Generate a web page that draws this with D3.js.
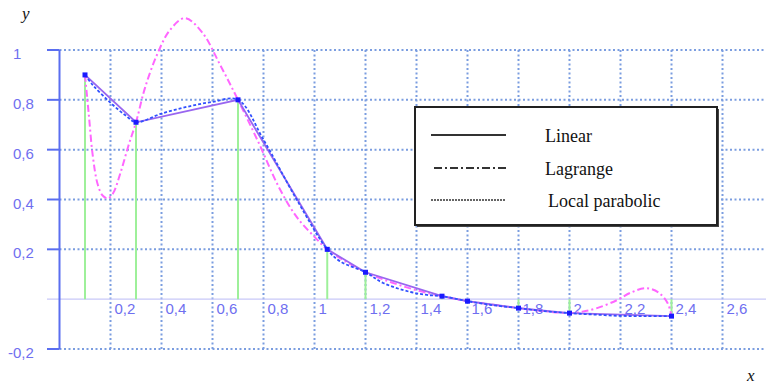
<!DOCTYPE html>
<html>
<head>
<meta charset="utf-8">
<script src="https://cdn.jsdelivr.net/npm/d3@7"></script>
<style>
  body { margin: 0; background: #fff; }
  svg { display: block; }
</style>
</head>
<body>
<div id="plot"></div>
<script>
// interpolation nodes
var nodeX = [0.1, 0.3, 0.7, 1.05, 1.2, 1.5, 1.6, 1.8, 2.0, 2.4];
var nodeY = [0.9, 0.71, 0.8, 0.2, 0.108, 0.012, -0.008, -0.036, -0.056, -0.068];

// Lagrange polynomial
var lagrangeX = [0.1, 0.115, 0.13, 0.15, 0.17, 0.19, 0.21, 0.24, 0.27, 0.3,
                 0.335, 0.382, 0.433, 0.492, 0.56, 0.63, 0.7,
                 0.78, 0.86, 0.93, 1.0, 1.05,
                 1.12, 1.2, 1.3, 1.4, 1.5, 1.6, 1.7, 1.8, 1.9, 2.0,
                 2.05, 2.108, 2.186, 2.24, 2.3, 2.35, 2.385, 2.4];
var lagrangeY = [0.9, 0.74, 0.58, 0.46, 0.415, 0.405, 0.425, 0.51, 0.615, 0.71,
                 0.847, 0.98, 1.08, 1.128, 1.07, 0.94, 0.8,
                 0.63, 0.45, 0.33, 0.25, 0.2,
                 0.153, 0.108, 0.068, 0.036, 0.012, -0.008, -0.022, -0.036, -0.048, -0.056,
                 -0.05, -0.036, -0.004, 0.026, 0.044, 0.026, -0.016, -0.068];

// local parabolic interpolation
var parabolicX = [0.1, 0.131, 0.198, 0.257, 0.3, 0.4, 0.5, 0.6, 0.7,
                  0.8, 0.93, 1.05, 1.1, 1.2, 1.269, 1.375, 1.441, 1.5,
                  1.6, 1.7, 1.8, 1.9, 2.0, 2.1, 2.2, 2.3, 2.4];
var parabolicY = [0.9, 0.859, 0.79, 0.739, 0.71, 0.745, 0.772, 0.792, 0.8,
                  0.64, 0.4, 0.2, 0.152, 0.108, 0.065, 0.029, 0.017, 0.012,
                  -0.008, -0.024, -0.036, -0.048, -0.056, -0.062, -0.067, -0.068, -0.068];

var xTicks = [0.2, 0.4, 0.6, 0.8, 1, 1.2, 1.4, 1.6, 1.8, 2, 2.2, 2.4, 2.6, 2.8];
var xTickLabels = ["0,2", "0,4", "0,6", "0,8", "1", "1,2", "1,4", "1,6", "1,8", "2", "2,2", "2,4", "2,6", ""];
var yTicks = [-0.2, 0.2, 0.4, 0.6, 0.8, 1];
var yTickLabels = ["-0,2", "0,2", "0,4", "0,6", "0,8", "1"];

var legendNames = ["Linear", "Lagrange", "Local parabolic"];

var width = 766, height = 384;

var svg = d3.select("#plot").append("svg")
    .attr("width", width)
    .attr("height", height);

var x = d3.scaleLinear().domain([0, 2.8]).range([59.5, 773.5]);
var y = d3.scaleLinear().domain([-0.2, 1]).range([349, 50]);

var gridColor = "#7b9de0";
var tickColor = "#6f6ff0";

// grid
svg.selectAll(".hgrid").data(yTicks).enter().append("line")
    .attr("x1", x(0)).attr("x2", width)
    .attr("y1", d => y(d)).attr("y2", d => y(d))
    .attr("stroke", gridColor).attr("stroke-width", 2)
    .attr("stroke-dasharray", "2,2.5");

svg.selectAll(".vgrid").data(xTicks).enter().append("line")
    .attr("x1", d => x(d)).attr("x2", d => x(d))
    .attr("y1", y(1)).attr("y2", y(-0.2))
    .attr("stroke", gridColor).attr("stroke-width", 2)
    .attr("stroke-dasharray", "2,2.5");

// x axis (y = 0)
svg.append("line")
    .attr("x1", 47).attr("x2", width)
    .attr("y1", y(0)).attr("y2", y(0))
    .attr("stroke", "#c8c8f8").attr("stroke-width", 1.2);

// green ordinates at the nodes
svg.selectAll(".ord").data(nodeX).enter().append("line")
    .attr("x1", d => x(d)).attr("x2", d => x(d))
    .attr("y1", (d, i) => y(nodeY[i])).attr("y2", y(0))
    .attr("stroke", "#9ef09a").attr("stroke-width", 2);

// y axis with ticks
svg.append("line")
    .attr("x1", x(0)).attr("x2", x(0))
    .attr("y1", y(1)).attr("y2", y(-0.2))
    .attr("stroke", "#5a6ef0").attr("stroke-width", 2);

svg.selectAll(".ytick").data(yTicks).enter().append("line")
    .attr("x1", 47).attr("x2", x(0))
    .attr("y1", d => y(d)).attr("y2", d => y(d))
    .attr("stroke", "#5a6ef0").attr("stroke-width", 2);

svg.selectAll(".ylab").data(yTicks).enter().append("text")
    .attr("x", d => d < 0 ? 8 : 13)
    .attr("y", d => y(d) + 9)
    .style("font", "15px 'Liberation Sans', Arial, sans-serif")
    .attr("fill", tickColor)
    .text((d, i) => yTickLabels[i]);

svg.selectAll(".xlab").data(xTicks).enter().append("text")
    .attr("x", d => x(d) + 4)
    .attr("y", y(0) + 15)
    .style("font", "15px 'Liberation Sans', Arial, sans-serif")
    .attr("fill", tickColor)
    .text((d, i) => xTickLabels[i]);

// axis names
svg.append("text")
    .attr("x", 22).attr("y", 19)
    .style("font", "italic 17px 'Liberation Serif', 'Times New Roman', serif")
    .attr("fill", "#111")
    .text("y");

svg.append("text")
    .attr("x", 747).attr("y", 381)
    .style("font", "italic 17px 'Liberation Serif', 'Times New Roman', serif")
    .attr("fill", "#111")
    .text("x");

// curves
var smooth = d3.line()
    .x(d => x(d[0])).y(d => y(d[1]))
    .curve(d3.curveCatmullRom.alpha(0.5));

svg.append("path")
    .datum(lagrangeX.map((v, i) => [v, lagrangeY[i]]))
    .attr("d", smooth)
    .attr("fill", "none")
    .attr("stroke", "#ff66ff").attr("stroke-width", 2)
    .attr("stroke-dasharray", "7,3,2,3");

var straight = d3.line().x(d => x(d[0])).y(d => y(d[1]));

svg.append("path")
    .datum(nodeX.map((v, i) => [v, nodeY[i]]))
    .attr("d", straight)
    .attr("fill", "none")
    .attr("stroke", "#9966f0").attr("stroke-width", 1.8);

svg.append("path")
    .datum(parabolicX.map((v, i) => [v, parabolicY[i]]))
    .attr("d", smooth)
    .attr("fill", "none")
    .attr("stroke", "#3050ff").attr("stroke-width", 1.8)
    .attr("stroke-dasharray", "3,2");

// nodes
svg.selectAll(".node").data(nodeX).enter().append("rect")
    .attr("x", d => x(d) - 2.5)
    .attr("y", (d, i) => y(nodeY[i]) - 2.5)
    .attr("width", 5).attr("height", 5)
    .attr("fill", "#1a1aff");

// legend
var lg = svg.append("g");
lg.append("rect")
    .attr("x", 417).attr("y", 109).attr("width", 302).attr("height", 118)
    .attr("fill", "#444");
lg.append("rect")
    .attr("x", 415).attr("y", 107).attr("width", 302).attr("height", 118)
    .attr("fill", "#fff").attr("stroke", "#222").attr("stroke-width", 2);

var legendDash = [null, "8,3,2,3", "2,1"];
var legendRowY = [135, 168, 200];
var legendX1 = [431, 434, 431];
var legendTextX = [545, 545, 548];

lg.selectAll(".lline").data(legendNames).enter().append("line")
    .attr("x1", (d, i) => legendX1[i]).attr("x2", 506)
    .attr("y1", (d, i) => legendRowY[i]).attr("y2", (d, i) => legendRowY[i])
    .attr("stroke", "#333").attr("stroke-width", (d, i) => i == 2 ? 1.5 : 2)
    .attr("stroke-dasharray", (d, i) => legendDash[i]);

lg.selectAll(".ltext").data(legendNames).enter().append("text")
    .attr("x", (d, i) => legendTextX[i])
    .attr("y", (d, i) => legendRowY[i] + 7)
    .style("font", "18px 'Liberation Serif', 'Times New Roman', serif")
    .attr("fill", "#111")
    .text(d => d);
</script>
</body>
</html>
